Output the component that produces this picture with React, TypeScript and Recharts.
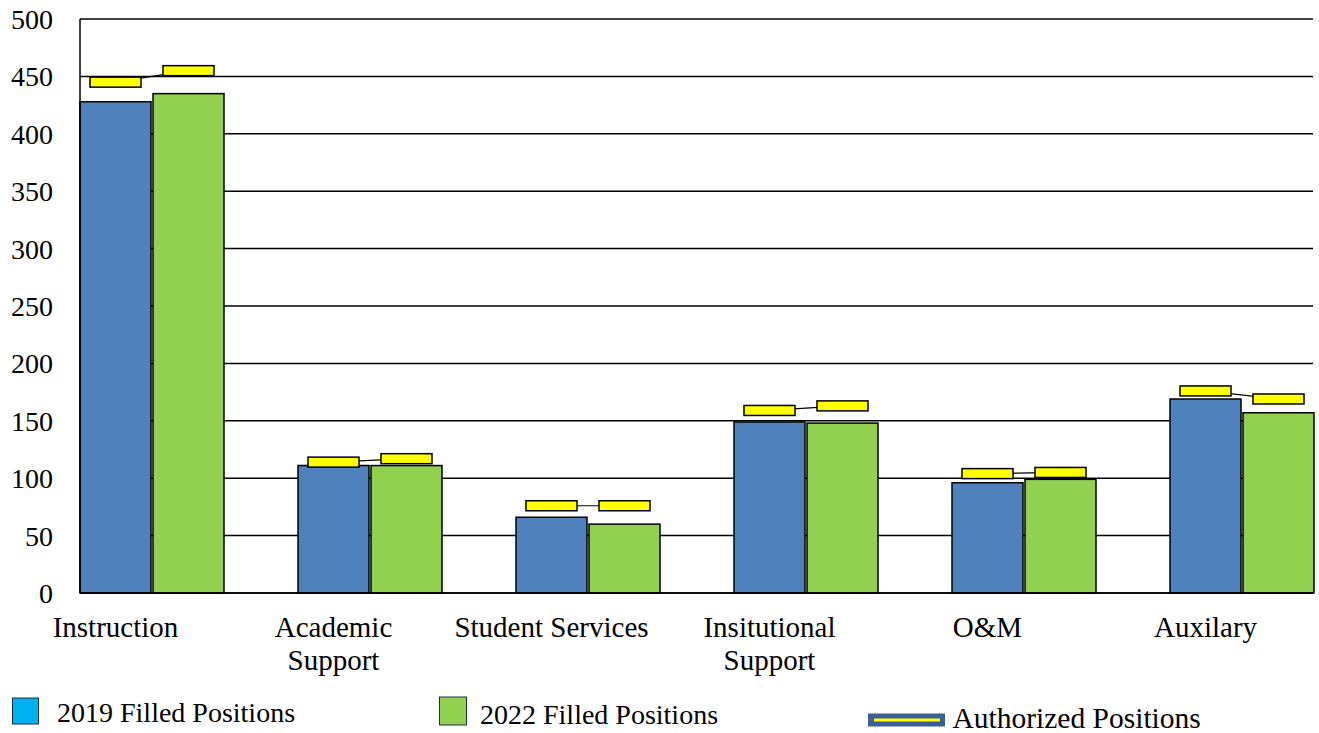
import React from 'react';
import { ComposedChart, Bar, XAxis, YAxis, CartesianGrid, Legend } from 'recharts';

const categories = ['Instruction', 'Academic Support', 'Student Services', 'Insitutional Support', 'O&M', 'Auxilary'];
const tickLabels = [['Instruction'], ['Academic', 'Support'], ['Student Services'], ['Insitutional', 'Support'], ['O&M'], ['Auxilary']];
const filled2019 = [428, 111, 66, 149, 96, 169];
const filled2022 = [435, 111, 60, 148, 99, 157];
const authorized2019 = [445, 114, 76, 159, 104, 176];
const authorized2022 = [455, 117, 76, 163, 105, 169];
const yTicks = [0, 50, 100, 150, 200, 250, 300, 350, 400, 450, 500];
const legendLabels = ['2019 Filled Positions', '2022 Filled Positions', 'Authorized Positions'];

const data = categories.map((c, i) => ({
  category: c,
  f2019: filled2019[i],
  f2022: filled2022[i],
  a2019: authorized2019[i],
  a2022: authorized2022[i],
}));

const FONT = "'Liberation Serif', 'Times New Roman', serif";
const BAR_GAP = 2;
const LABEL_SHIFT = 36;

const GreenBarWithMarkers = (props: any) => {
  const { x, y, width, height, payload, fill } = props;
  const base = y + height;
  const per = height / payload.f2022;
  const yA = base - payload.a2019 * per;
  const yB = base - payload.a2022 * per;
  const cxB = x + width / 2;
  const cxA = x - BAR_GAP - width / 2;
  const mw = 51;
  const mh = 10;
  return (
    <g>
      <rect x={x} y={y} width={width} height={height} fill={fill} stroke="#000" strokeWidth={1.5} />
      <line x1={cxA} y1={yA} x2={cxB} y2={yB} stroke="#000" strokeWidth={1.2} />
      <rect x={cxA - mw / 2} y={yA - mh / 2} width={mw} height={mh} fill="#FFFF00" stroke="#000" strokeWidth={1.5} />
      <rect x={cxB - mw / 2} y={yB - mh / 2} width={mw} height={mh} fill="#FFFF00" stroke="#000" strokeWidth={1.5} />
    </g>
  );
};

const CategoryTick = (props: any) => {
  const { x, y, index } = props;
  const lines = tickLabels[index] || [];
  return (
    <g>
      {lines.map((l, i) => (
        <text key={i} x={x - LABEL_SHIFT} y={y + 44 + i * 33} textAnchor="middle" fontSize={29} fontFamily={FONT} fill="#000">
          {l}
        </text>
      ))}
    </g>
  );
};

const ValueTick = (props: any) => {
  const { x, y, payload } = props;
  return (
    <text x={x} y={y} dy={10} textAnchor="end" fontSize={28} fontFamily={FONT} fill="#000">
      {payload.value}
    </text>
  );
};

const renderLegend = () => (
  <svg width={1313} height={40} style={{ display: 'block' }}>
    <rect x={12.5} y={5} width={26} height={26} fill="#00B0F0" stroke="#1F2F40" strokeWidth={1} />
    <text x={57} y={29} fontSize={28} fontFamily={FONT} fill="#000">{legendLabels[0]}</text>
    <rect x={439.5} y={4} width={27} height={28} fill="#92D050" stroke="#1F2F40" strokeWidth={1} />
    <text x={480} y={31} fontSize={28} fontFamily={FONT} fill="#000">{legendLabels[1]}</text>
    <rect x={868} y={20.5} width={77} height={13} fill="#3A5F94" />
    <rect x={874} y={25.5} width={66} height={3} fill="#FFFF00" />
    <text x={952.5} y={34.5} fontSize={29.5} fontFamily={FONT} fill="#000">{legendLabels[2]}</text>
  </svg>
);

export default function App() {
  return (
    <div style={{ position: 'absolute', left: 0, top: 0, width: 1319, height: 733, background: '#fff' }}>
      <ComposedChart
        width={1319}
        height={733}
        data={data}
        margin={{ top: 19, right: 6, bottom: 0, left: 0 }}
        barGap={BAR_GAP}
        barCategoryGap={37.5}
      >
        <CartesianGrid vertical={false} stroke="#000" strokeWidth={1.5} />
        <XAxis
          dataKey="category"
          height={100}
          padding={{ left: -37.5, right: -37.5 }}
          axisLine={{ stroke: '#000', strokeWidth: 1.5 }}
          tickLine={false}
          tickSize={0}
          tickMargin={0}
          interval={0}
          tick={<CategoryTick />}
        />
        <YAxis
          width={80}
          domain={[0, 500]}
          ticks={yTicks}
          interval={0}
          axisLine={{ stroke: '#000', strokeWidth: 1.5 }}
          tickLine={false}
          tickSize={0}
          tickMargin={27}
          tick={<ValueTick />}
        />
        <Legend verticalAlign="bottom" height={40} content={renderLegend} wrapperStyle={{ left: 0 }} />
        <Bar dataKey="f2019" fill="#4F81BD" stroke="#000" strokeWidth={1.5} isAnimationActive={false} />
        <Bar dataKey="f2022" fill="#92D050" shape={<GreenBarWithMarkers />} isAnimationActive={false} />
      </ComposedChart>
    </div>
  );
}
